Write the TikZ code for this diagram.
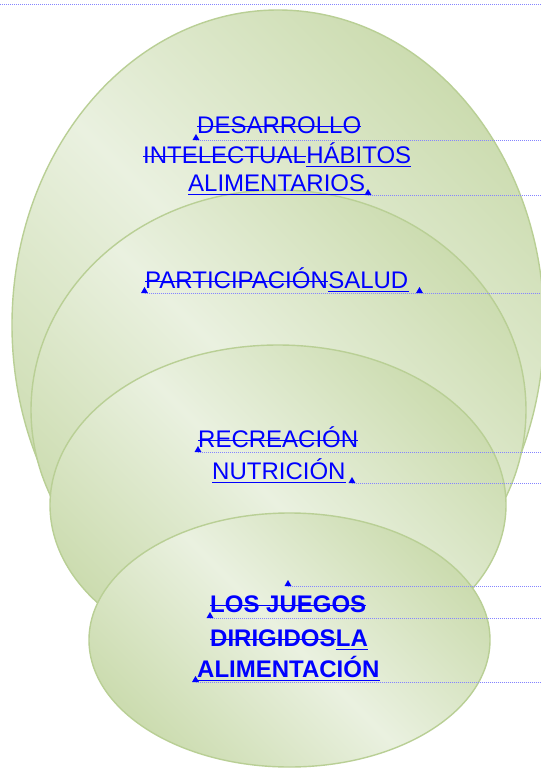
\documentclass[tikz,border=0pt]{standalone}
\usepackage{fontspec}
\setmainfont{Liberation Sans}
\usetikzlibrary{shapes.geometric}
\definecolor{gdark}{HTML}{CCDCB0}
\definecolor{glight}{HTML}{EAF1E0}
\definecolor{bord}{HTML}{B9CF95}
\definecolor{revblue}{HTML}{0000FF}
\definecolor{dotblue}{HTML}{8585FF}
\newcommand{\strikeit}[1]{\draw[ruleline] ([yshift=6.5pt]#1.base west) -- ([yshift=6.5pt]#1.base east);}
\newcommand{\underit}[1]{\draw[ruleline] ([yshift=-3.5pt]#1.base west) -- ([yshift=-3.5pt]#1.base east);}
\begin{document}
\begin{tikzpicture}[x=1pt,y=-1pt,
  bubble/.style={ellipse, draw=bord, line width=1.4pt, inner sep=0pt,
    top color=gdark, bottom color=gdark, middle color=glight, shading angle=-45},
  txt/.style={text=revblue, font=\fontsize{24}{28}\selectfont, inner sep=0pt, anchor=base west},
  btxt/.style={txt, font=\fontsize{24}{28}\selectfont\bfseries},
  ruleline/.style={draw=revblue, line width=1.5pt},
  revmark/.style={regular polygon, regular polygon sides=3, fill=revblue, minimum size=8pt,
    inner sep=0pt, outer sep=0pt, anchor=south},
  revline/.style={draw=dotblue, line width=1pt, dash pattern=on 1pt off 1pt}]
\useasboundingbox (0,0) rectangle (541,769);
\fill[white] (0,0) rectangle (541,769);
% ellipses
\node[bubble, minimum width=532pt, minimum height=630pt] (b1) at (278,325) {};
\node[bubble, minimum width=495pt, minimum height=440pt] (b2) at (278.5,410) {};
\node[bubble, minimum width=456pt, minimum height=320pt] (b3) at (278,505) {};
\node[bubble, minimum width=401pt, minimum height=254pt] (b4) at (289.5,640) {};
% texts
\node[txt] (t1) at (197,133) {DESARROLLO};
\node[txt] (t2a) at (143,163) {INTELECTUAL};
\node[txt] (t2b) at (t2a.base east) {HÁBITOS};
\node[txt] (t3) at (188,191) {ALIMENTARIOS};
\node[txt] (t4a) at (145,288) {PARTICIPACIÓN};
\node[txt] (t4b) at (t4a.base east) {SALUD};
\node[txt] (t5) at (198,447) {RECREACIÓN};
\node[txt] (t6) at (212,479) {NUTRICIÓN};
\node[btxt] (t7) at (210,612) {LOS JUEGOS};
\node[btxt] (t8a) at (210,646) {DIRIGIDOS};
\node[btxt] (t8b) at (t8a.base east) {LA};
\node[btxt] (t9) at (197,677) {ALIMENTACIÓN};
\strikeit{t1}
\strikeit{t2a}
\underit{t2b}
\underit{t3}
\strikeit{t4a}
\underit{t4b}
\strikeit{t5}
\underit{t6}
\strikeit{t7}
\strikeit{t8a}
\underit{t8b}
\underit{t9}
% revision lines
\coordinate (l0) at (0,4.5);
\coordinate (r0) at (541,4.5);
\draw[revline] (l0) -- (r0);
\node[revmark] (m1) at (196,140) {};
\node[revmark] (m2) at (368,195) {};
\node[revmark] (m3) at (144.5,293) {};
\node[revmark] (m3b) at (419.5,293) {};
\node[revmark] (m4) at (198,452) {};
\node[revmark] (m5) at (352,483) {};
\node[revmark] (m6) at (288,586) {};
\node[revmark] (m7) at (210,618) {};
\node[revmark] (m8) at (195.5,682) {};
\coordinate (r1) at (541,140);
\coordinate (r2) at (541,195);
\coordinate (r3) at (541,293);
\coordinate (r4) at (541,452);
\coordinate (r5) at (541,483);
\coordinate (r6) at (541,586);
\coordinate (r7) at (541,618);
\coordinate (r8) at (541,682);
\draw[revline] (m1.south) -- (r1);
\draw[revline] (m2.south) -- (r2);
\draw[revline] (m3.south) -- (m3b.south) -- (r3);
\draw[revline] (m4.south) -- (r4);
\draw[revline] (m5.south) -- (r5);
\draw[revline] (m6.south) -- (r6);
\draw[revline] (m7.south) -- (r7);
\draw[revline] (m8.south) -- (r8);
\end{tikzpicture}
\end{document}
